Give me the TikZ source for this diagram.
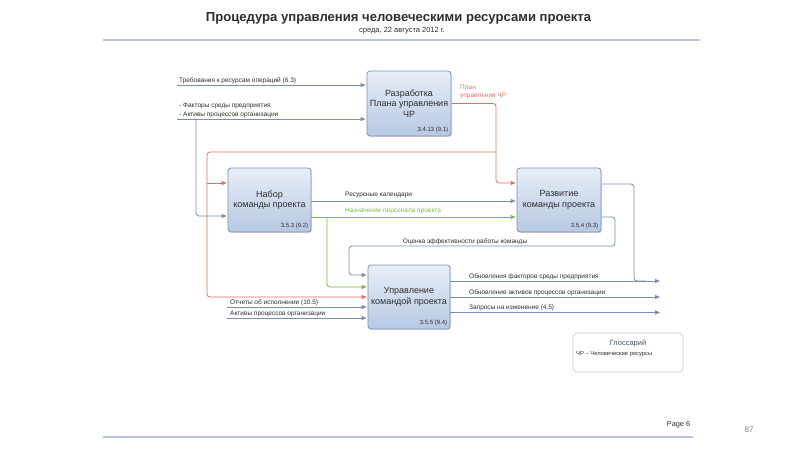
\documentclass[tikz,border=0pt]{standalone}
\usepackage{fontspec}
\setmainfont{Liberation Sans}
\usetikzlibrary{arrows.meta,shadows}
\definecolor{lnblue}{HTML}{7A8EB3}
\definecolor{lnred}{HTML}{E2705E}
\definecolor{lngreen}{HTML}{7CBA4C}
\definecolor{boxtop}{HTML}{E8EEF7}
\definecolor{boxbot}{HTML}{B6C8E3}
\definecolor{boxborder}{HTML}{7F93B6}
\definecolor{textdark}{HTML}{2E2E2E}
\definecolor{hdrline}{HTML}{B7C6DA}
\definecolor{glossb}{HTML}{C8C8C8}
\definecolor{glosst}{HTML}{44546A}
\begin{document}
\begin{tikzpicture}[x=1pt,y=-1pt,
  box/.style={draw=boxborder, line width=0.8pt, rounded corners=3pt,
    top color=boxtop, bottom color=boxbot, align=center, text=textdark,
    font=\fontsize{9}{10.5}\selectfont, inner sep=1pt,
    drop shadow={shadow xshift=1.2pt, shadow yshift=-1.2pt, opacity=0.25}},
  num/.style={font=\fontsize{6}{7}\selectfont, text=textdark, inner sep=0pt},
  lbl/.style={font=\fontsize{6.5}{8.5}\selectfont, text=textdark, inner sep=1pt},
  arr/.style={-{Triangle[length=5pt,width=4pt]}, shorten >=1pt},
  bl/.style={draw=lnblue, line width=0.8pt},
  rd/.style={draw=lnred, line width=0.8pt},
  gr/.style={draw=lngreen, line width=0.8pt},
  hdr/.style={draw=hdrline, line width=1.3pt}]
\useasboundingbox (0,0) rectangle (800,450);
\fill[white] (0,0) rectangle (800,450);

% header / footer
\node[font=\bfseries\fontsize{13.1}{15}\selectfont, text=textdark, inner sep=0pt] (title) at (398.5,18) {Процедура управления человеческими ресурсами проекта};
\node[font=\fontsize{7.5}{9}\selectfont, text=textdark, inner sep=0pt] (date) at (402,31) {среда, 22 августа 2012 г.};
\draw[hdr] (103,40) -- (700,40);
\draw[hdr] (103,437) -- (693,437);
\node[font=\fontsize{7.3}{9}\selectfont, text=textdark, inner sep=0pt] (pg) at (678.5,425) {Page 6};
\node[font=\fontsize{8}{10}\selectfont, text=gray, inner sep=0pt] (pnum) at (749,430) {87};

% boxes
\node[box, minimum width=84pt, minimum height=65pt] (b1) at (409,103.5) {Разработка\\Плана управления\\ЧР};
\node[box, minimum width=83pt, minimum height=64pt] (b2) at (269.5,200) {Набор\\команды проекта};
\node[box, minimum width=84pt, minimum height=64pt] (b3) at (559,200) {Развитие\\команды проекта};
\node[box, minimum width=82pt, minimum height=64pt] (b4) at (409,297) {Управление\\командой проекта};
\node[num, anchor=south east] (n1) at ([xshift=-3pt,yshift=3pt]b1.south east) {3.4.13 (9.1)};
\node[num, anchor=south east] (n2) at ([xshift=-3pt,yshift=3pt]b2.south east) {3.5.3 (9.2)};
\node[num, anchor=south east] (n3) at ([xshift=-3pt,yshift=3pt]b3.south east) {3.5.4 (9.3)};
\node[num, anchor=south east] (n4) at ([xshift=-3pt,yshift=3pt]b4.south east) {3.5.5 (9.4)};

% inputs to b1
\coordinate (i1) at (177,85);
\coordinate (i2) at (177,119);
\draw[bl,arr] (i1) -- (i1 -| b1.west);
\draw[bl,arr] (i2) -- (i2 -| b1.west);
\node[lbl, anchor=south west] (l1) at (178,85) {Требования к ресурсам операций (6.3)};
\node[lbl, anchor=south west, align=left] (l2) at (178,119) {- Факторы среды предприятия\\- Активы процессов организации};
\coordinate (j1) at (196,119);
\draw[bl,arr,rounded corners=3pt] (j1) |- ([yshift=-16pt]b2.west);

% red plan
\draw[rd,arr,rounded corners=3pt] (b1.east) -- (496,103.5) |- ([yshift=17pt]b3.west);
\node[lbl, text=lnred, anchor=south west, align=left, font=\fontsize{6.5}{7.5}\selectfont] (lp) at (459,100) {План\\управления ЧР};
\coordinate (j2) at (496,152);
\draw[rd,arr,rounded corners=3pt] (j2) -- (207,152) |- (b4.west);
\coordinate (j3) at (207,183);
\draw[rd,arr] (j3) -- ([yshift=17pt]b2.west);

% b2 -> b3
\draw[bl,arr] ([yshift=-1pt]b2.east) -- ([yshift=-1pt]b3.west);
\node[lbl, anchor=south west] (l3) at (344,199) {Ресурсные календари};
\draw[gr,arr] ([yshift=-17pt]b2.east) -- ([yshift=-17pt]b3.west);
\node[lbl, text=lngreen, anchor=south west] (l4) at (344,215) {Назначение персонала проекта};
\coordinate (j4) at (327,217);
\draw[gr,arr,rounded corners=3pt] (j4) |- ([yshift=10pt]b4.west);

% b3 outputs
\draw[bl,rounded corners=3pt] ([yshift=16pt]b3.east) -| (634,281) -- (646,281);
\draw[bl,arr,rounded corners=3pt] ([yshift=-17pt]b3.east) -| (615,246) -- (349,246) |- ([yshift=22pt]b4.west);
\node[lbl, anchor=south] (l5) at (465,246.5) {Оценка эффективности работы команды};

% inputs to b4
\coordinate (i3) at (227,307);
\coordinate (i4) at (227,318);
\draw[bl,arr] (i3) -- (i3 -| b4.west);
\draw[bl,arr] (i4) -- (i4 -| b4.west);
\node[lbl, anchor=south west] (l6) at (229,307) {Отчеты об исполнении (10.5)};
\node[lbl, anchor=south west] (l7) at (229,318) {Активы процессов организации};

% outputs of b4
\coordinate (o1) at (661,281);
\coordinate (o2) at (661,297);
\coordinate (o3) at (661,312.5);
\draw[bl,arr] (o1 -| b4.east) -- (o1);
\draw[bl,arr] (o2 -| b4.east) -- (o2);
\draw[bl,arr] (o3 -| b4.east) -- (o3);
\node[lbl, anchor=south west] (l8) at (468,281) {Обновления факторов среды предприятия};
\node[lbl, anchor=south west] (l9) at (468,297) {Обновление активов процессов организации};
\node[lbl, anchor=south west] (l10) at (468,312.5) {Запросы на изменение (4.5)};

% glossary
\node[draw=glossb, line width=0.6pt, rounded corners=4pt, minimum width=110pt, minimum height=39pt, inner sep=0pt] (gl) at (628,352.5) {};
\node[font=\fontsize{7.5}{9}\selectfont, text=glosst, inner sep=0pt] (glt) at (628,343) {Глоссарий};
\node[font=\fontsize{5.8}{7}\selectfont, text=textdark, anchor=west, inner sep=0pt] (gli) at (576,354) {ЧР – Человеческие ресурсы};
\end{tikzpicture}
\end{document}
